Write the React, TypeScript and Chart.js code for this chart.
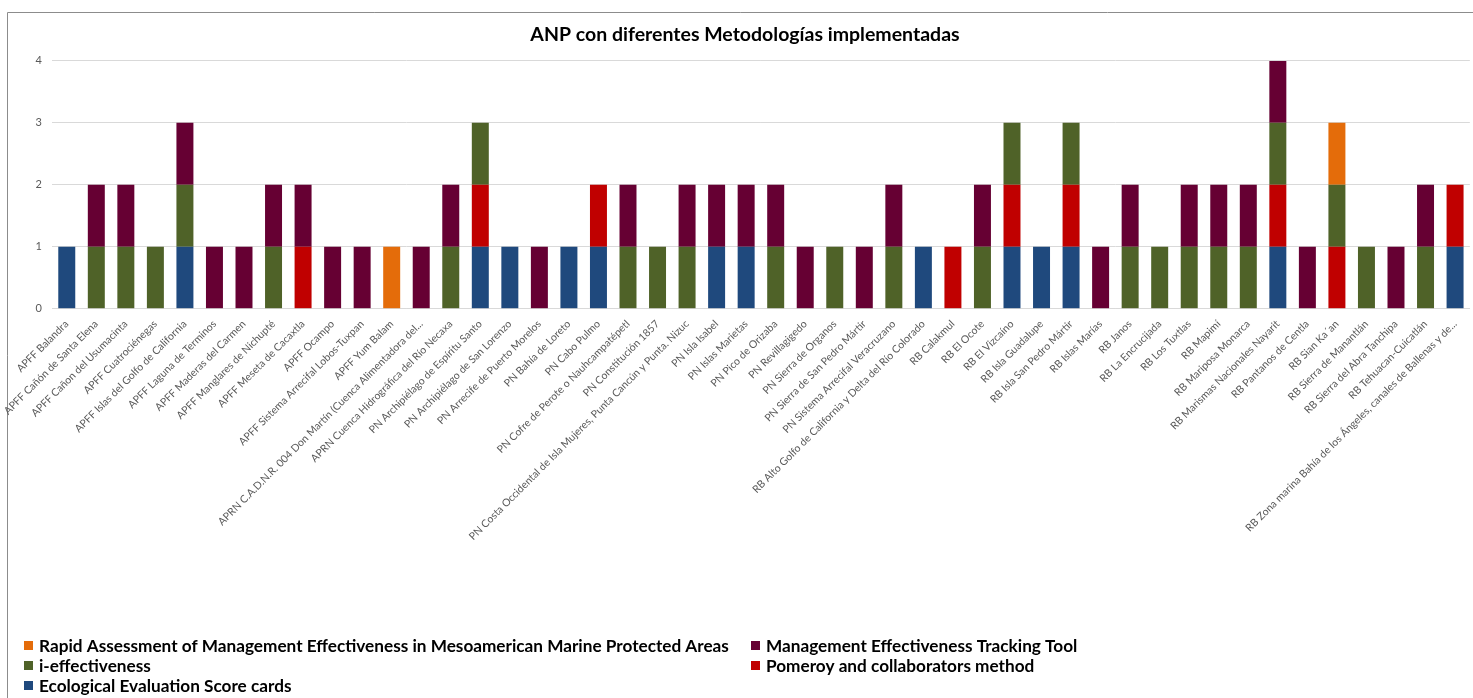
import React, { useEffect, useRef } from 'react';
import { Chart, registerables } from 'chart.js';

Chart.register(...registerables);

const chartTitle = 'ANP con diferentes Metodologías implementadas';

const categories = [
  'APFF Balandra',
  'APFF Cañón de Santa Elena',
  'APFF Cañon del Usumacinta',
  'APFF Cuatrociénegas',
  'APFF Islas del Golfo de California',
  'APFF Laguna de Terminos',
  'APFF Maderas del Carmen',
  'APFF Manglares de Nichupté',
  'APFF Meseta de Cacaxtla',
  'APFF Ocampo',
  'APFF Sistema Arrecifal Lobos-Tuxpan',
  'APFF Yum Balam',
  'APRN C.A.D.N.R. 004 Don Martín (Cuenca Alimentadora del...',
  'APRN Cuenca Hidrográfica del Río Necaxa',
  'PN Archipiélago de Espíritu Santo',
  'PN Archipiélago de San Lorenzo',
  'PN Arrecife de Puerto Morelos',
  'PN Bahía de Loreto',
  'PN Cabo Pulmo',
  'PN Cofre de Perote o Nauhcampatépetl',
  'PN Constitución 1857',
  'PN Costa Occidental de Isla Mujeres, Punta Cancún y Punta. Nizuc',
  'PN Isla Isabel',
  'PN Islas Marietas',
  'PN Pico de Orizaba',
  'PN Revillagigedo',
  'PN Sierra de Organos',
  'PN Sierra de San Pedro Mártir',
  'PN Sistema Arrecifal Veracruzano',
  'RB Alto Golfo de California y Delta del Río Colorado',
  'RB Calakmul',
  'RB El Ocote',
  'RB El Vizcaíno',
  'RB Isla Guadalupe',
  'RB Isla San Pedro Mártir',
  'RB Islas Marías',
  'RB Janos',
  'RB La Encrucijada',
  'RB Los Tuxtlas',
  'RB Mapimí',
  'RB Mariposa Monarca',
  'RB Marismas Nacionales Nayarit',
  'RB Pantanos de Centla',
  'RB Sian Ka´an',
  'RB Sierra de Manantlán',
  'RB Sierra del Abra Tanchipa',
  'RB Tehuacan-Cuicatlán',
  'RB Zona marina Bahía de los Ángeles, canales de Ballenas y de...',
];

const seriesNames = [
  'Ecological Evaluation Score cards',
  'Pomeroy and collaborators method',
  'i-effectiveness',
  'Management Effectiveness Tracking Tool',
  'Rapid Assessment of Management Effectiveness in Mesoamerican Marine Protected Areas',
];

const seriesColors = ['#1F497D', '#C00000', '#4F6228', '#660033', '#E46C0A'];

// Ecological Evaluation Score cards
const scoreCards = [
  1, 0, 0, 0, 1, 0, 0, 0, 0, 0, 0, 0, 0, 0, 1, 1, 0, 1, 1, 0, 0, 0, 1, 1,
  0, 0, 0, 0, 0, 1, 0, 0, 1, 1, 1, 0, 0, 0, 0, 0, 0, 1, 0, 0, 0, 0, 0, 1,
];
// Pomeroy and collaborators method
const pomeroy = [
  0, 0, 0, 0, 0, 0, 0, 0, 1, 0, 0, 0, 0, 0, 1, 0, 0, 0, 1, 0, 0, 0, 0, 0,
  0, 0, 0, 0, 0, 0, 1, 0, 1, 0, 1, 0, 0, 0, 0, 0, 0, 1, 0, 1, 0, 0, 0, 1,
];
// i-effectiveness
const iEffectiveness = [
  0, 1, 1, 1, 1, 0, 0, 1, 0, 0, 0, 0, 0, 1, 1, 0, 0, 0, 0, 1, 1, 1, 0, 0,
  1, 0, 1, 0, 1, 0, 0, 1, 1, 0, 1, 0, 1, 1, 1, 1, 1, 1, 0, 1, 1, 0, 1, 0,
];
// Management Effectiveness Tracking Tool
const mett = [
  0, 1, 1, 0, 1, 1, 1, 1, 1, 1, 1, 0, 1, 1, 0, 0, 1, 0, 0, 1, 0, 1, 1, 1,
  1, 1, 0, 1, 1, 0, 0, 1, 0, 0, 0, 1, 1, 0, 1, 1, 1, 1, 1, 0, 0, 1, 1, 0,
];
// Rapid Assessment of Management Effectiveness in Mesoamerican MPAs
const rapidAssessment = [
  0, 0, 0, 0, 0, 0, 0, 0, 0, 0, 0, 1, 0, 0, 0, 0, 0, 0, 0, 0, 0, 0, 0, 0,
  0, 0, 0, 0, 0, 0, 0, 0, 0, 0, 0, 0, 0, 0, 0, 0, 0, 0, 0, 1, 0, 0, 0, 0,
];

const seriesValues = [scoreCards, pomeroy, iEffectiveness, mett, rapidAssessment];

const yMin = 0;
const yMax = 4;
const yStep = 1;

const FONT = 'Lato, "Open Sans", sans-serif';

const framePlugin = {
  id: 'excelFrame',
  beforeDraw(chart: any) {
    const { ctx, width, height } = chart;
    ctx.save();
    ctx.fillStyle = '#ffffff';
    ctx.fillRect(0, 0, width, height);
    ctx.strokeStyle = '#8C8C8C';
    ctx.lineWidth = 1;
    ctx.beginPath();
    ctx.moveTo(7.5, height + 2);
    ctx.lineTo(7.5, 12.5);
    ctx.lineTo(width + 2, 12.5);
    ctx.stroke();
    ctx.restore();
  },
};

const legendPlugin = {
  id: 'excelLegend',
  afterDraw(chart: any) {
    const { ctx } = chart;
    const order = [4, 3, 2, 1, 0];
    const colX = [24, 751];
    const rowY = [645, 665, 685];
    ctx.save();
    ctx.font = 'bold 17.2px ' + FONT;
    ctx.textBaseline = 'middle';
    ctx.textAlign = 'left';
    order.forEach((di, i) => {
      const ds = chart.data.datasets[di];
      const x = colX[i % 2];
      const y = rowY[Math.floor(i / 2)];
      ctx.fillStyle = ds.backgroundColor;
      ctx.fillRect(x, y - 4, 9, 9);
      ctx.fillStyle = '#000000';
      ctx.fillText(ds.label, x + 15, y + 1);
    });
    ctx.restore();
  },
};

export default function App() {
  const canvasRef = useRef<HTMLCanvasElement | null>(null);

  useEffect(() => {
    if (!canvasRef.current) return;
    const chart = new Chart(canvasRef.current, {
      type: 'bar',
      data: {
        labels: categories,
        datasets: seriesNames.map((name, i) => ({
          label: name,
          data: seriesValues[i],
          backgroundColor: seriesColors[i],
          borderWidth: 0,
          barPercentage: 0.575,
          categoryPercentage: 1,
        })),
      },
      options: {
        animation: false,
        responsive: false,
        devicePixelRatio: 1,
        layout: { padding: { top: 12, left: 19, right: 2, bottom: 0 } },
        plugins: {
          legend: { display: false },
          tooltip: { enabled: false },
          title: {
            display: true,
            text: chartTitle,
            color: '#000000',
            font: { family: FONT, size: 19.5, weight: 'bold' },
            padding: { top: 11, bottom: 14.5 },
          },
        },
        scales: {
          x: {
            stacked: true,
            grid: { display: false, drawTicks: false },
            border: { display: true, color: '#D9D9D9' },
            ticks: {
              autoSkip: false,
              maxRotation: 45,
              minRotation: 45,
              padding: 9,
              color: '#595959',
              font: { family: FONT, size: 10.5 },
            },
            afterFit(scale: any) {
              scale.height = 389.3;
            },
          },
          y: {
            stacked: true,
            min: yMin,
            max: yMax,
            ticks: {
              stepSize: yStep,
              padding: 10,
              color: '#595959',
              font: { family: FONT, size: 11 },
            },
            grid: { color: '#D9D9D9', drawTicks: false },
            border: { display: false },
            afterFit(scale: any) {
              scale.width = 33;
            },
          },
        },
      },
      plugins: [framePlugin, legendPlugin],
    });
    return () => chart.destroy();
  }, []);

  return (
    <div style={{ position: 'fixed', left: 0, top: 0, width: 1473, height: 698, background: '#fff' }}>
      <canvas ref={canvasRef} width={1473} height={698} style={{ display: 'block' }} />
    </div>
  );
}
